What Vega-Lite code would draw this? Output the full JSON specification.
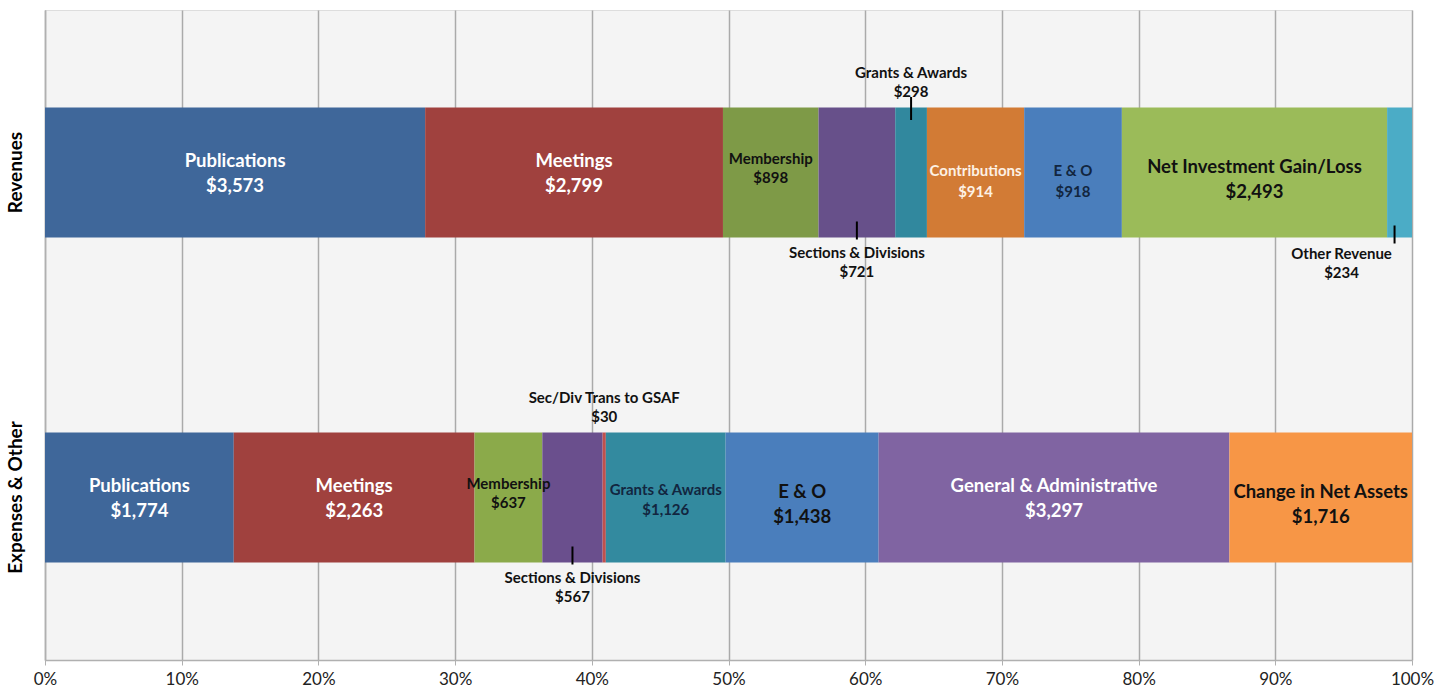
{
  "$schema": "https://vega.github.io/schema/vega-lite/v6.json",
  "width": 1367,
  "height": 650,
  "autosize": {"type": "none"},
  "padding": {"left": 45, "top": 10, "right": 38, "bottom": 34},
  "background": "white",
  "data": {
    "values": [
      {"group": "Revenues", "key": "rev-pub", "order": 1, "value": 3573, "label": "Publications\n$3,573"},
      {"group": "Revenues", "key": "rev-meet", "order": 2, "value": 2799, "label": "Meetings\n$2,799"},
      {"group": "Revenues", "key": "rev-mem", "order": 3, "value": 898, "label": "Membership\n$898"},
      {"group": "Revenues", "key": "rev-sec", "order": 4, "value": 721, "label": "Sections & Divisions\n$721"},
      {"group": "Revenues", "key": "rev-grants", "order": 5, "value": 298, "label": "Grants & Awards\n$298"},
      {"group": "Revenues", "key": "rev-contrib", "order": 6, "value": 914, "label": "Contributions\n$914"},
      {"group": "Revenues", "key": "rev-eo", "order": 7, "value": 918, "label": "E & O\n$918"},
      {"group": "Revenues", "key": "rev-net", "order": 8, "value": 2493, "label": "Net Investment Gain/Loss\n$2,493"},
      {"group": "Revenues", "key": "rev-other", "order": 9, "value": 234, "label": "Other Revenue\n$234"},
      {"group": "Expenses & Other", "key": "exp-pub", "order": 1, "value": 1774, "label": "Publications\n$1,774"},
      {"group": "Expenses & Other", "key": "exp-meet", "order": 2, "value": 2263, "label": "Meetings\n$2,263"},
      {"group": "Expenses & Other", "key": "exp-mem", "order": 3, "value": 637, "label": "Membership\n$637"},
      {"group": "Expenses & Other", "key": "exp-sec", "order": 4, "value": 567, "label": "Sections & Divisions\n$567"},
      {"group": "Expenses & Other", "key": "exp-trans", "order": 5, "value": 30, "label": "Sec/Div Trans to GSAF\n$30"},
      {"group": "Expenses & Other", "key": "exp-grants", "order": 6, "value": 1126, "label": "Grants & Awards\n$1,126"},
      {"group": "Expenses & Other", "key": "exp-eo", "order": 7, "value": 1438, "label": "E & O\n$1,438"},
      {"group": "Expenses & Other", "key": "exp-ga", "order": 8, "value": 3297, "label": "General & Administrative\n$3,297"},
      {"group": "Expenses & Other", "key": "exp-change", "order": 9, "value": 1716, "label": "Change in Net Assets\n$1,716"}
    ]
  },
  "transform": [
    {
      "stack": "value",
      "groupby": ["group"],
      "sort": [{"field": "order", "order": "ascending"}],
      "offset": "normalize",
      "as": ["x0", "x1"]
    },
    {"calculate": "(datum.x0 + datum.x1) / 2", "as": "xm"}
  ],
  "encoding": {
    "y": {
      "field": "group",
      "type": "nominal",
      "title": null,
      "sort": ["Revenues", "Expenses & Other"],
      "scale": {"paddingInner": 0.6, "paddingOuter": 0.3},
      "axis": {
        "labelAngle": -90,
        "labelAlign": "center",
        "labelBaseline": "middle",
        "labelPadding": 30,
        "labelFont": "Lato",
        "labelFontWeight": "bold",
        "labelFontSize": 19,
        "labelColor": "#000000",
        "ticks": false,
        "domainColor": "#b0b0b0",
        "domainWidth": 1.5,
        "grid": false
      }
    }
  },
  "layer": [
    {
      "mark": {"type": "bar"},
      "encoding": {
        "x": {
          "field": "x0",
          "type": "quantitative",
          "title": null,
          "scale": {"domain": [0, 1], "nice": false},
          "axis": {
            "format": "%",
            "values": [0, 0.1, 0.2, 0.3, 0.4, 0.5, 0.6, 0.7, 0.8, 0.9, 1],
            "labelFlush": false,
            "labelFont": "Lato",
            "labelFontSize": 17,
            "labelColor": "#222222",
            "labelPadding": 6,
            "tickSize": 5,
            "tickColor": "#b0b0b0",
            "domainColor": "#b0b0b0",
            "domainWidth": 1.5,
            "gridColor": "#aaaaaa",
            "gridWidth": 1.5
          }
        },
        "x2": {"field": "x1"},
        "color": {
          "field": "key",
          "type": "nominal",
          "legend": null,
          "scale": {
            "domain": ["rev-pub", "rev-meet", "rev-mem", "rev-sec", "rev-grants", "rev-contrib", "rev-eo", "rev-net", "rev-other",
                       "exp-pub", "exp-meet", "exp-mem", "exp-sec", "exp-trans", "exp-grants", "exp-eo", "exp-ga", "exp-change"],
            "range": ["#3F679A", "#A0413E", "#7E9A47", "#67508A", "#31889E", "#D27B35", "#4A7EBC", "#9BBB59", "#4BACC6",
                      "#3F679A", "#A0413E", "#8BAA4A", "#6A4F8D", "#C0504D", "#338A9F", "#4A7EBC", "#8064A2", "#F79646"]
          }
        }
      }
    },
    {
      "transform": [{"filter": "indexof(['rev-pub', 'rev-meet', 'exp-pub', 'exp-meet', 'exp-ga'], datum.key) >= 0"}],
      "mark": {"type": "text", "font": "Lato", "fontWeight": "bold", "fontSize": 18.5, "lineHeight": 25, "lineBreak": "\n", "color": "#ffffff", "baseline": "middle", "dy": -12},
      "encoding": {
        "x": {"field": "xm", "type": "quantitative"},
        "text": {"field": "label"}
      }
    },
    {
      "transform": [{"filter": "indexof(['rev-net', 'exp-eo', 'exp-change'], datum.key) >= 0"}],
      "mark": {"type": "text", "font": "Lato", "fontWeight": "bold", "fontSize": 18.5, "lineHeight": 25, "lineBreak": "\n", "color": "#111111", "baseline": "middle", "dy": -6},
      "encoding": {
        "x": {"field": "xm", "type": "quantitative"},
        "text": {"field": "label"}
      }
    },
    {
      "transform": [{"filter": "datum.key == 'rev-contrib'"}],
      "mark": {"type": "text", "font": "Lato", "fontWeight": "bold", "fontSize": 15, "lineHeight": 21, "lineBreak": "\n", "color": "#fdf1e4", "baseline": "middle", "dy": -2},
      "encoding": {
        "x": {"field": "xm", "type": "quantitative"},
        "text": {"field": "label"}
      }
    },
    {
      "transform": [{"filter": "datum.key == 'rev-eo'"}],
      "mark": {"type": "text", "font": "Lato", "fontWeight": "bold", "fontSize": 15, "lineHeight": 21, "lineBreak": "\n", "color": "#12263f", "baseline": "middle", "dy": -2},
      "encoding": {
        "x": {"field": "xm", "type": "quantitative"},
        "text": {"field": "label"}
      }
    },
    {
      "transform": [{"filter": "indexof(['rev-mem', 'exp-mem'], datum.key) >= 0"}],
      "mark": {"type": "text", "font": "Lato", "fontWeight": "bold", "fontSize": 15, "lineHeight": 19, "lineBreak": "\n", "color": "#111111", "baseline": "middle", "dy": -14},
      "encoding": {
        "x": {"field": "xm", "type": "quantitative"},
        "text": {"field": "label"}
      }
    },
    {
      "transform": [{"filter": "datum.key == 'exp-grants'"}],
      "mark": {"type": "text", "font": "Lato", "fontWeight": "bold", "fontSize": 15, "lineHeight": 20, "lineBreak": "\n", "color": "#12263f", "baseline": "middle", "dy": -8},
      "encoding": {
        "x": {"field": "xm", "type": "quantitative"},
        "text": {"field": "label"}
      }
    },
    {
      "transform": [{"filter": "indexof(['rev-grants', 'exp-trans'], datum.key) >= 0"}],
      "mark": {"type": "text", "font": "Lato", "fontWeight": "bold", "fontSize": 15, "lineHeight": 19, "lineBreak": "\n", "color": "#111111", "baseline": "middle", "dy": -100},
      "encoding": {
        "x": {"field": "xm", "type": "quantitative"},
        "text": {"field": "label"}
      }
    },
    {
      "transform": [{"filter": "indexof(['rev-sec', 'exp-sec'], datum.key) >= 0"}],
      "mark": {"type": "text", "font": "Lato", "fontWeight": "bold", "fontSize": 15, "lineHeight": 19, "lineBreak": "\n", "color": "#111111", "baseline": "middle", "dy": 80},
      "encoding": {
        "x": {"field": "xm", "type": "quantitative"},
        "text": {"field": "label"}
      }
    },
    {
      "transform": [{"filter": "datum.key == 'rev-other'"}],
      "mark": {"type": "text", "font": "Lato", "fontWeight": "bold", "fontSize": 15, "lineHeight": 19, "lineBreak": "\n", "color": "#111111", "baseline": "middle", "dy": 81, "dx": -58},
      "encoding": {
        "x": {"field": "xm", "type": "quantitative"},
        "text": {"field": "label"}
      }
    },
    {
      "transform": [{"filter": "datum.key == 'rev-grants'"}],
      "mark": {"type": "tick", "color": "#000000", "thickness": 2, "size": 23, "yOffset": -64, "opacity": 1},
      "encoding": {
        "x": {"field": "xm", "type": "quantitative"}
      }
    },
    {
      "transform": [{"filter": "indexof(['rev-sec', 'exp-sec'], datum.key) >= 0"}],
      "mark": {"type": "tick", "color": "#000000", "thickness": 2, "size": 18, "yOffset": 58, "opacity": 1},
      "encoding": {
        "x": {"field": "xm", "type": "quantitative"}
      }
    },
    {
      "transform": [{"filter": "datum.key == 'rev-other'"}],
      "mark": {"type": "tick", "color": "#000000", "thickness": 2, "size": 18, "yOffset": 62, "xOffset": -5, "opacity": 1},
      "encoding": {
        "x": {"field": "xm", "type": "quantitative"}
      }
    }
  ],
  "config": {
    "view": {"fill": "#f4f4f4", "stroke": "#dddddd"}
  }
}
